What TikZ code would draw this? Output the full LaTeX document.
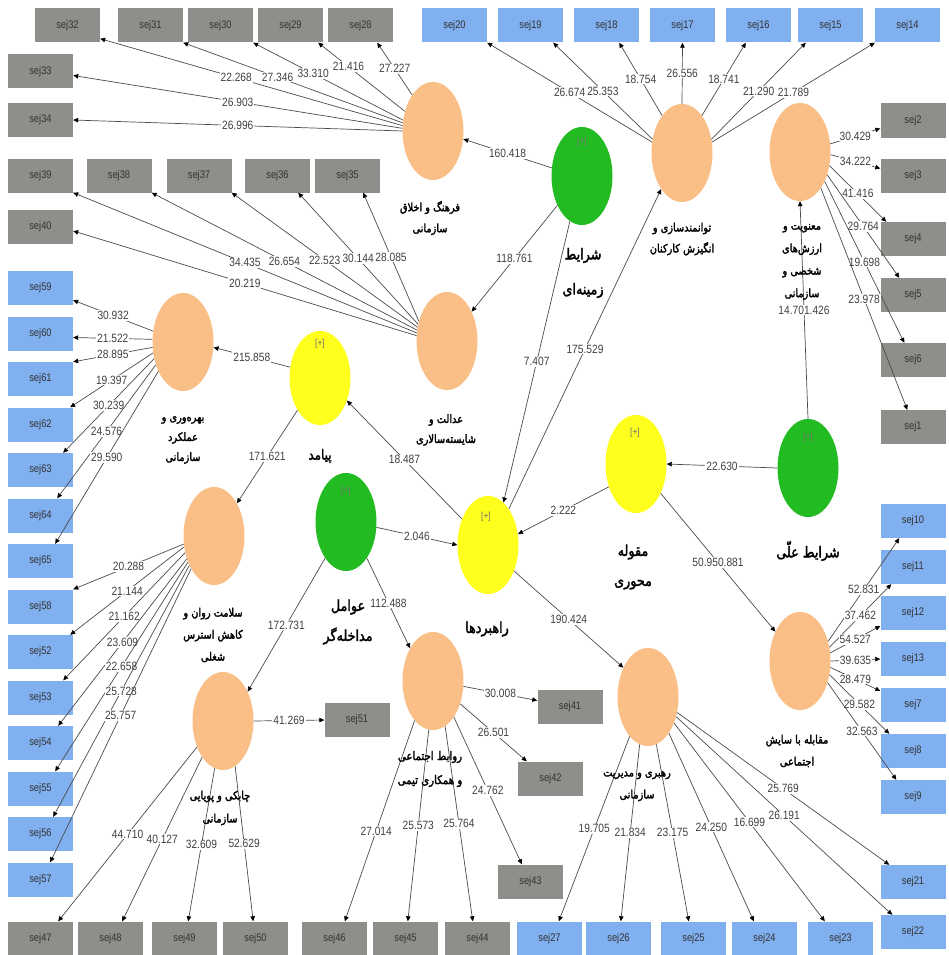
\documentclass[tikz,border=0pt]{standalone}
\usepackage{fontspec}
\setmainfont{Liberation Sans}
\newfontfamily\numfont[FakeStretch=0.85]{Liberation Sans}
\newfontfamily\farsi[Script=Arabic,FakeBold=2.2,FakeStretch=0.85]{DejaVu Sans}
\usetikzlibrary{shapes.geometric,arrows.meta}
\TeXXeTstate=1
\newcommand{\fat}[1]{\beginR #1\endR}
\definecolor{bxgray}{RGB}{142,142,138}
\definecolor{bxblue}{RGB}{128,176,240}
\definecolor{elor}{RGB}{250,190,135}
\definecolor{elgr}{RGB}{34,187,34}
\definecolor{elye}{RGB}{255,255,30}
\definecolor{lncol}{RGB}{75,75,75}
\definecolor{numcol}{RGB}{65,65,65}
\tikzset{
 box/.style={rectangle, minimum width=65pt, minimum height=34pt, inner sep=0pt, font=\numfont\fontsize{11}{11}\selectfont, text=black!80},
 gbox/.style={box, fill=bxgray},
 bbox/.style={box, fill=bxblue},
 lat/.style={ellipse, minimum width=61pt, minimum height=98pt, inner sep=0pt},
 oel/.style={lat, fill=elor},
 gel/.style={lat, fill=elgr},
 yel/.style={lat, fill=elye},
 conn/.style={draw=lncol, line width=0.7pt, -{Triangle[length=5pt,width=4.5pt,color=black]}},
 lab/.style={midway, fill=white, inner sep=1pt, font=\numfont\fontsize{12}{12}\selectfont, text=numcol},
 plus/.style={font=\numfont\fontsize{10}{10}\selectfont, text=black!55},
 fsm/.style={font=\farsi\fontsize{11.5}{21}\selectfont, align=center, inner sep=0pt},
 fbig/.style={font=\farsi\fontsize{15}{30}\selectfont, align=center, inner sep=0pt},
}
\begin{document}
\begin{tikzpicture}[x=1pt,y=-1pt]
\fill[white] (0,0) rectangle (948,955);
\useasboundingbox (0,0) rectangle (948,955);
% top row
\node[gbox] (s32) at (67.5,25.5) {sej32};
\node[gbox] (s31) at (150.5,25.5) {sej31};
\node[gbox] (s30) at (220.5,25.5) {sej30};
\node[gbox] (s29) at (290.5,25.5) {sej29};
\node[gbox] (s28) at (360.5,25.5) {sej28};
\node[bbox] (s20) at (454.5,25.5) {sej20};
\node[bbox] (s19) at (530.5,25.5) {sej19};
\node[bbox] (s18) at (606.5,25.5) {sej18};
\node[bbox] (s17) at (682.5,25.5) {sej17};
\node[bbox] (s16) at (758.5,25.5) {sej16};
\node[bbox] (s15) at (830.5,25.5) {sej15};
\node[bbox] (s14) at (907.5,25.5) {sej14};
% left upper
\node[gbox] (s33) at (40.5,71.5) {sej33};
\node[gbox] (s34) at (40.5,120) {sej34};
\node[gbox] (s39) at (40.5,175.5) {sej39};
\node[gbox] (s38) at (119,175.5) {sej38};
\node[gbox] (s37) at (199,175.5) {sej37};
\node[gbox] (s36) at (277.5,175.5) {sej36};
\node[gbox] (s35) at (347.5,175.5) {sej35};
\node[gbox] (s40) at (40.5,227) {sej40};
% left lower
\node[bbox] (s59) at (40.5,288) {sej59};
\node[bbox] (s60) at (40.5,333.5) {sej60};
\node[bbox] (s61) at (40.5,379) {sej61};
\node[bbox] (s62) at (40.5,424.5) {sej62};
\node[bbox] (s63) at (40.5,470) {sej63};
\node[bbox] (s64) at (40.5,515.5) {sej64};
\node[bbox] (s65) at (40.5,561) {sej65};
\node[bbox] (s58) at (40.5,606.5) {sej58};
\node[bbox] (s52) at (40.5,652) {sej52};
\node[bbox] (s53) at (40.5,697.5) {sej53};
\node[bbox] (s54) at (40.5,743) {sej54};
\node[bbox] (s55) at (40.5,788.5) {sej55};
\node[bbox] (s56) at (40.5,834) {sej56};
\node[bbox] (s57) at (40.5,879.5) {sej57};
% bottom row
\node[gbox] (s47) at (40.5,938.5) {sej47};
\node[gbox] (s48) at (110.5,938.5) {sej48};
\node[gbox] (s49) at (184.5,938.5) {sej49};
\node[gbox] (s50) at (255.5,938.5) {sej50};
\node[gbox] (s46) at (334.5,938.5) {sej46};
\node[gbox] (s45) at (405.5,938.5) {sej45};
\node[gbox] (s44) at (477.5,938.5) {sej44};
\node[bbox] (s27) at (549.5,938.5) {sej27};
\node[bbox] (s26) at (618.5,938.5) {sej26};
\node[bbox] (s25) at (693.5,938.5) {sej25};
\node[bbox] (s24) at (764.5,938.5) {sej24};
\node[bbox] (s23) at (840.5,938.5) {sej23};
% right column
\node[gbox] (s2) at (913,120.5) {sej2};
\node[gbox] (s3) at (913,175.5) {sej3};
\node[gbox] (s4) at (913,239) {sej4};
\node[gbox] (s5) at (913,295) {sej5};
\node[gbox] (s6) at (913,360) {sej6};
\node[gbox] (s1) at (913,427) {sej1};
\node[bbox] (s10) at (913,521) {sej10};
\node[bbox] (s11) at (913,567) {sej11};
\node[bbox] (s12) at (913,613) {sej12};
\node[bbox] (s13) at (913,659) {sej13};
\node[bbox] (s7) at (913,705) {sej7};
\node[bbox] (s8) at (913,751) {sej8};
\node[bbox] (s9) at (913,797) {sej9};
\node[bbox] (s21) at (913,882) {sej21};
\node[bbox] (s22) at (913,932) {sej22};
% middle boxes
\node[gbox] (s51) at (357,720) {sej51};
\node[gbox] (s41) at (570,706.5) {sej41};
\node[gbox] (s42) at (550.5,778.5) {sej42};
\node[gbox] (s43) at (530.5,881.5) {sej43};
% latent variables
\node[oel] (cul) at (433,131) {};
\node[gel] (ctx) at (582,176) {};
\node[oel] (emp) at (682,153) {};
\node[oel] (spi) at (800,152) {};
\node[gel] (cau) at (808,468) {};
\node[yel] (cen) at (636,464) {};
\node[yel, minimum height=94pt] (out) at (320,378) {};
\node[oel] (jus) at (447,341) {};
\node[oel] (pro) at (183,342) {};
\node[oel] (men) at (214,536) {};
\node[gel] (int) at (346,522) {};
\node[yel] (str) at (488,545) {};
\node[oel] (soc) at (433,681) {};
\node[oel] (lea) at (648,697) {};
\node[oel] (ero) at (800,661) {};
\node[oel] (agi) at (223,721) {};
\node[plus] (ctxp) at (582,142) {[+]};
\node[plus] (caup) at (808,437) {[+]};
\node[plus] (cenp) at (635,433) {[+]};
\node[plus] (outp) at (320,344) {[+]};
\node[plus] (intp) at (346,491) {[+]};
\node[plus] (strp) at (486,517) {[+]};
% culture fan
\draw[conn] (cul.170) -- node[lab,pos=0.55]{22.268} ([yshift=4pt]s32.south east);
\draw[conn] (cul.165) -- node[lab,pos=0.57]{27.346} (s31.south east);
\draw[conn] (cul.160) -- node[lab,pos=0.6]{33.310} (s30.south east);
\draw[conn] (cul.145) -- node[lab,pos=0.65]{21.416} ([xshift=-5pt]s29.south east);
\draw[conn] (cul.120) -- node[lab]{27.227} ([xshift=-16pt]s28.south east);
\draw[conn] (cul.175) -- node[lab]{26.903} ([yshift=-4pt]s33.east);
\draw[conn] (cul.180) -- node[lab]{26.996} (s34.east);
% justice fan
\draw[conn] (jus.165) -- node[lab]{34.435} (s39.south east);
\draw[conn] (jus.160) -- node[lab]{26.654} (s38.south east);
\draw[conn] (jus.155) -- node[lab]{22.523} (s37.south east);
\draw[conn] (jus.150) -- node[lab]{30.144} ([xshift=-12pt]s36.south east);
\draw[conn] (jus.145) -- node[lab]{28.085} ([xshift=-17pt]s35.south east);
\draw[conn] (jus.170) -- node[lab]{20.219} ([yshift=-4pt]s40.east);
% empowerment fan
\draw[conn] (emp.160) -- node[lab]{26.674} (s20.south east);
\draw[conn] (emp.155) -- node[lab]{25.353} ([xshift=-10pt]s19.south east);
\draw[conn] (emp.118) -- node[lab]{18.754} ([xshift=-20pt]s18.south east);
\draw[conn] (emp.north) -- node[lab]{26.556} (s17.south);
\draw[conn] (emp.62) -- node[lab]{18.741} ([xshift=20pt]s16.south west);
\draw[conn] (emp.25) -- node[lab]{21.290} ([xshift=8pt]s15.south west);
\draw[conn] (emp.20) -- node[lab]{21.789} (s14.south west);
% spirituality fan
\draw[conn] (spi.15) -- node[lab]{30.429} ([yshift=-8pt]s2.west);
\draw[conn] (spi.-5) -- node[lab]{34.222} ([yshift=7pt]s3.west);
\draw[conn] (spi.-25) -- node[lab]{41.416} ([xshift=6pt]s4.north west);
\draw[conn] (spi.-40) -- node[lab]{29.764} ([xshift=19pt]s5.north west);
\draw[conn] (spi.-50) -- node[lab]{19.698} ([xshift=24pt]s6.north west);
\draw[conn] (spi.-60) -- node[lab]{23.978} ([xshift=27pt]s1.north west);
% structural paths
\draw[conn] (cau.north) -- node[lab]{14.701.426} (spi.south);
\draw[conn] (ctx.165) -- node[lab]{160.418} (cul.-15);
\draw[conn] (ctx.-130) -- node[lab]{118.761} (jus.50);
\draw[conn] (ctx.-105) -- node[lab]{7.407} (str.70);
\draw[conn] (str.60) -- node[lab]{175.529} (emp.-120);
\draw[conn] (out.160) -- node[lab]{215.858} (pro.-10);
\draw[conn] (out.-125) -- node[lab]{171.621} (men.55);
\draw[conn] (str.135) -- node[lab]{18.487} (out.-40);
\draw[conn] (cen.-140) -- node[lab]{2.222} (str.20);
\draw[conn] (cau.west) -- node[lab]{22.630} (cen.east);
\draw[conn] (cen.-50) -- node[lab]{50.950.881} (ero.130);
\draw[conn] (int.-10) -- node[lab]{2.046} (str.west);
\draw[conn] (int.-120) -- node[lab]{172.731} (agi.50);
\draw[conn] (int.-60) -- node[lab]{112.488} (soc.125);
\draw[conn] (str.-45) -- node[lab]{190.424} (lea.130);
% productivity fan
\draw[conn] (pro.160) -- node[lab]{30.932} ([yshift=5pt]s59.south east);
\draw[conn] (pro.175) -- node[lab]{21.522} ([yshift=-4pt]s60.east);
\draw[conn] (pro.-170) -- node[lab]{28.895} (s61.north east);
\draw[conn] (pro.-160) -- node[lab]{19.397} ([xshift=-3pt]s62.north east);
\draw[conn] (pro.-150) -- node[lab]{30.239} ([xshift=-10pt]s63.north east);
\draw[conn] (pro.-140) -- node[lab]{24.576} ([xshift=-16pt]s64.north east);
\draw[conn] (pro.-130) -- node[lab]{29.590} ([xshift=-18pt]s65.north east);
% mental health fan
\draw[conn] (men.-165) -- node[lab]{20.288} (s58.north east);
\draw[conn] (men.-160) -- node[lab]{21.144} ([xshift=-3pt]s52.north east);
\draw[conn] (men.-150) -- node[lab]{21.162} ([xshift=-10pt]s53.north east);
\draw[conn] (men.-140) -- node[lab]{23.609} ([xshift=-15pt]s54.north east);
\draw[conn] (men.-135) -- node[lab]{22.658} ([xshift=-18pt]s55.north east);
\draw[conn] (men.-130) -- node[lab]{25.728} ([xshift=-20pt]s56.north east);
\draw[conn] (men.-125) -- node[lab]{25.757} ([xshift=-23pt]s57.north east);
% agility fan
\draw[conn] (agi.east) -- node[lab]{41.269} (s51.west);
\draw[conn] (agi.-135) -- node[lab]{44.710} ([xshift=-15pt]s47.north east);
\draw[conn] (agi.-120) -- node[lab]{40.127} ([xshift=-21pt]s48.north east);
\draw[conn] (agi.-100) -- node[lab]{32.609} ([xshift=-29pt]s49.north east);
\draw[conn] (agi.-75) -- node[lab]{52.629} ([xshift=-35pt]s50.north east);
% social relations fan
\draw[conn] (soc.-10) -- node[lab]{30.008} ([yshift=6pt]s41.west);
\draw[conn] (soc.-40) -- node[lab]{26.501} ([xshift=9pt]s42.north west);
\draw[conn] (soc.-60) -- node[lab]{24.762} ([xshift=24pt]s43.north west);
\draw[conn] (soc.-75) -- node[lab]{25.764} ([xshift=28pt]s44.north west);
\draw[conn] (soc.-95) -- node[lab]{25.573} ([xshift=35pt]s45.north west);
\draw[conn] (soc.-115) -- node[lab,pos=0.55]{27.014} ([xshift=43pt]s46.north west);
% leadership fan
\draw[conn] (lea.-115) -- node[lab]{19.705} ([xshift=42pt]s27.north west);
\draw[conn] (lea.-100) -- node[lab]{21.834} ([xshift=35pt]s26.north west);
\draw[conn] (lea.-80) -- node[lab]{23.175} ([xshift=28pt]s25.north west);
\draw[conn] (lea.-60) -- node[lab]{24.250} ([xshift=22pt]s24.north west);
\draw[conn] (lea.-45) -- node[lab]{16.699} ([xshift=17pt]s23.north west);
\draw[conn] (lea.-35) -- node[lab]{26.191} ([xshift=12pt]s22.north west);
\draw[conn] (lea.-28) -- node[lab]{25.769} ([xshift=9pt]s21.north west);
% erosion fan
\draw[conn] (ero.35) -- node[lab]{52.831} ([xshift=19pt]s10.south west);
\draw[conn] (ero.25) -- node[lab]{37.462} ([xshift=11pt]s11.south west);
\draw[conn] (ero.15) -- node[lab]{54.527} ([yshift=-13pt]s12.west);
\draw[conn] (ero.0) -- node[lab]{39.635} (s13.west);
\draw[conn] (ero.-12) -- node[lab]{28.479} ([yshift=14pt]s7.west);
\draw[conn] (ero.-25) -- node[lab]{29.582} ([xshift=9pt]s8.north west);
\draw[conn] (ero.-38) -- node[lab]{32.563} ([xshift=16pt]s9.north west);
% persian labels
\node[fsm] (culL) at (430,218) {\fat{فرهنگ و اخلاق}\\\fat{سازمانی}};
\node[fbig, font=\farsi\fontsize{15}{35}\selectfont] (ctxL) at (583,273) {\fat{شرایط}\\\fat{زمینه‌ای}};
\node[fsm] (empL) at (682,239) {\fat{توانمندسازی و}\\\fat{انگیزش کارکنان}};
\node[fsm, font=\farsi\fontsize{11.5}{22.5}\selectfont] (spiL) at (802,262) {\fat{معنویت و}\\\fat{ارزش‌های}\\\fat{شخصی و}\\\fat{سازمانی}};
\node[fbig] (cauL) at (808,551) {\fat{شرایط علّی}};
\node[fbig] (cenL) at (633,567) {\fat{مقوله}\\\fat{محوری}};
\node[fbig, font=\farsi\fontsize{14}{30}\selectfont] (outL) at (320,456) {\fat{پیامد}};
\node[fsm, font=\farsi\fontsize{11.5}{20}\selectfont] (jusL) at (446,430) {\fat{عدالت و}\\\fat{شایسته‌سالاری}};
\node[fsm, font=\farsi\fontsize{11.5}{20}\selectfont] (proL) at (183,440) {\fat{بهره‌وری و}\\\fat{عملکرد}\\\fat{سازمانی}};
\node[fsm, font=\farsi\fontsize{11.5}{22}\selectfont] (menL) at (213,635) {\fat{سلامت روان و}\\\fat{کاهش استرس}\\\fat{شغلی}};
\node[fbig] (intL) at (348,622) {\fat{عوامل}\\\fat{مداخله‌گر}};
\node[fbig] (strL) at (487,629) {\fat{راهبردها}};
\node[fsm, font=\farsi\fontsize{12}{24}\selectfont] (socL) at (430,769) {\fat{روابط اجتماعی}\\\fat{و همکاری تیمی}};
\node[fsm, font=\farsi\fontsize{11.5}{22}\selectfont] (leaL) at (637,786) {\fat{رهبری و مدیریت}\\\fat{سازمانی}};
\node[fsm, font=\farsi\fontsize{11.5}{22}\selectfont] (eroL) at (797,751) {\fat{مقابله با سایش}\\\fat{اجتماعی}};
\node[fsm, font=\farsi\fontsize{11.5}{23}\selectfont] (agiL) at (220,808) {\fat{چابکی و پویایی}\\\fat{سازمانی}};
\end{tikzpicture}
\end{document}
